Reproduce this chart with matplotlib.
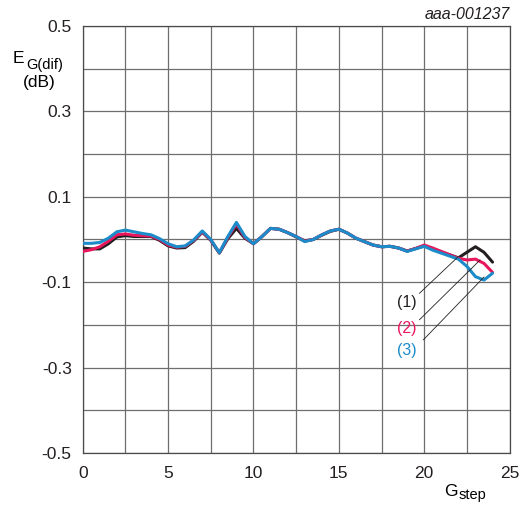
import numpy as np
import matplotlib
matplotlib.use('Agg')
import matplotlib.pyplot as plt

plt.rcParams['font.family'] = ['Liberation Sans', 'DejaVu Sans']

# G_step positions, 0 .. 24 in 0.5 steps
g_step = np.arange(0, 24.5, 0.5)

# curve (1) black
err_1 = [-0.020, -0.022, -0.022, -0.010, 0.006, 0.009, 0.007, 0.007, 0.007, -0.002,
         -0.015, -0.020, -0.019, -0.004, 0.017, -0.002, -0.032, 0.002, 0.026, 0.003,
         -0.010, 0.007, 0.026, 0.024, 0.016, 0.006, -0.003, 0.000, 0.010, 0.019,
         0.024, 0.015, 0.003, -0.005, -0.013, -0.017, -0.016, -0.020, -0.027, -0.021,
         -0.015, -0.022, -0.029, -0.036, -0.043, -0.030, -0.017, -0.030, -0.053]
# curve (2) red
err_2 = [-0.028, -0.024, -0.017, -0.004, 0.011, 0.013, 0.010, 0.009, 0.008, 0.000,
         -0.013, -0.018, -0.016, -0.002, 0.018, -0.001, -0.031, 0.005, 0.036, 0.005,
         -0.010, 0.007, 0.026, 0.024, 0.016, 0.007, -0.004, 0.000, 0.011, 0.020,
         0.024, 0.015, 0.003, -0.005, -0.013, -0.017, -0.016, -0.020, -0.027, -0.021,
         -0.013, -0.020, -0.028, -0.036, -0.044, -0.048, -0.046, -0.056, -0.077]
# curve (3) blue
err_3 = [-0.009, -0.009, -0.007, 0.003, 0.018, 0.022, 0.018, 0.014, 0.011, 0.002,
         -0.010, -0.017, -0.015, -0.001, 0.020, 0.000, -0.031, 0.007, 0.040, 0.007,
         -0.010, 0.007, 0.026, 0.024, 0.016, 0.007, -0.005, 0.000, 0.011, 0.020,
         0.024, 0.015, 0.003, -0.005, -0.013, -0.017, -0.016, -0.020, -0.028, -0.022,
         -0.016, -0.025, -0.032, -0.039, -0.046, -0.063, -0.087, -0.095, -0.079]

labels = ['(1)', '(2)', '(3)']
colors = ['#231f20', '#e8175d', '#1b8bc9']
label_pos = [(18.96, -0.147), (18.96, -0.208), (18.96, -0.261)]
leader_start = [(19.72, -0.126), (19.72, -0.188), (19.95, -0.235)]
leader_end = [(21.97, -0.041), (23.27, -0.048), (23.5, -0.088)]

fig = plt.figure(figsize=(5.27, 5.09), dpi=100)
ax = fig.add_axes([0.157, 0.110, 0.810, 0.839])

for ys, c in zip([err_1, err_2, err_3], colors):
    ax.plot(g_step, ys, color=c, lw=2.2, solid_joinstyle='round',
            solid_capstyle='round', zorder=3)

for lab, c, p, s, e in zip(labels, colors, label_pos, leader_start, leader_end):
    ax.text(p[0], p[1], lab, color=c, fontsize=11.5, ha='center', va='center')
    ax.plot([s[0], e[0]], [s[1], e[1]], color='#231f20', lw=0.6, zorder=4)

ax.set_xlim(0, 25)
ax.set_ylim(-0.5, 0.5)
ax.set_xticks(np.arange(0, 25.1, 2.5), minor=True)
ax.set_yticks(np.arange(-0.5, 0.51, 0.1), minor=True)
ax.set_xticks([0, 5, 10, 15, 20, 25])
ax.set_xticklabels(['0', '5', '10', '15', '20', '25'])
ax.set_yticks([-0.5, -0.3, -0.1, 0.1, 0.3, 0.5])
ax.set_yticklabels(['-0.5', '-0.3', '-0.1', '0.1', '0.3', '0.5'])
ax.grid(True, which='both', color='#6e6e6e', lw=0.9)
ax.tick_params(which='both', length=0, labelsize=12.5, colors='#231f20')
ax.tick_params(axis='x', pad=9)
ax.tick_params(axis='y', pad=8)
for sp in ax.spines.values():
    sp.set_color('#4a4a4a')
    sp.set_linewidth(0.9)

# y axis title: E_G(dif) (dB)
fig.text(0.024, 0.885, 'E', fontsize=12.5, ha='left', va='center')
fig.text(0.050, 0.873, 'G(dif)', fontsize=10.5, ha='left', va='center')
fig.text(0.074, 0.837, '(dB)', fontsize=12.5, ha='center', va='center')
# x axis title: G_step
fig.text(0.842, 0.034, 'G', fontsize=12.5, ha='left', va='center')
fig.text(0.870, 0.027, 'step', fontsize=10.5, ha='left', va='center')
fig.text(0.968, 0.971, 'aaa-001237', fontsize=11.5, style='italic', ha='right',
         va='center', color='#231f20')

fig.savefig('out.png', dpi=100)
